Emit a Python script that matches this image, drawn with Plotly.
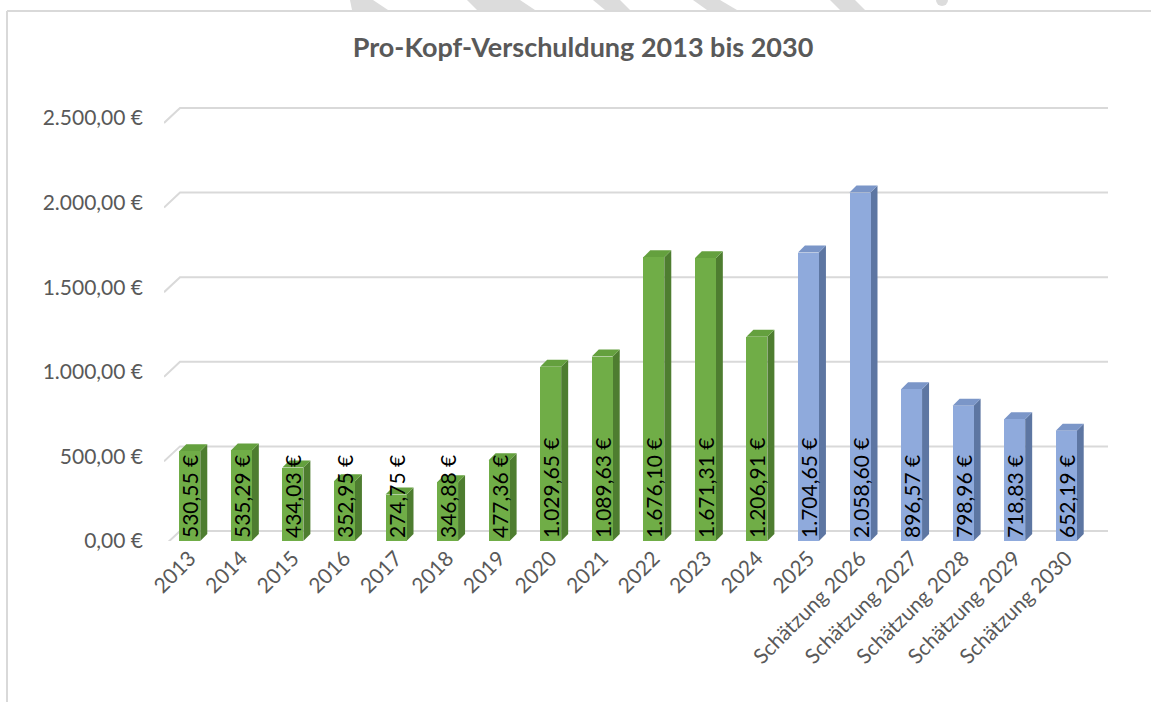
import plotly.graph_objects as go

# ---------------- data ----------------
categories = ["2013", "2014", "2015", "2016", "2017", "2018", "2019", "2020",
              "2021", "2022", "2023", "2024", "2025",
              "Schätzung 2026", "Schätzung 2027", "Schätzung 2028",
              "Schätzung 2029", "Schätzung 2030"]
values = [530.55, 535.29, 434.03, 352.95, 274.75, 346.88, 477.36, 1029.65,
          1089.63, 1676.10, 1671.31, 1206.91, 1704.65, 2058.60, 896.57,
          798.96, 718.83, 652.19]
is_estimate = [False] * 12 + [True] * 6
y_ticks = [0, 500, 1000, 1500, 2000, 2500]
title_text = "Pro-Kopf-Verschuldung 2013 bis 2030"


def de_eur(v):
    s = f"{v:,.2f}".replace(",", "X").replace(".", ",").replace("X", ".")
    return s + " €"


y_ticktext = [de_eur(v) for v in y_ticks]
bar_text = [de_eur(v) for v in values]

# ---------------- styling ----------------
W, H = 1151, 702
n = len(categories)
L, T, B = 164, 101, 161
BARS_W = 928                      # pixel width used by the 18 category slots
EXTRA = 18                        # room on the right for the back-wall depth
R = W - L - BARS_W - EXTRA
PW, PH = W - L - R, H - T - B
YMAX = 2600
px_per_x = BARS_W / n
px_per_y = PH / YMAX
XMAX = n - 0.5 + EXTRA / px_per_x

GREEN = dict(front="#70AD47", side="#4E7D30", top="#64A03E")
BLUE = dict(front="#8FAADC", side="#5D76A2", top="#7B96C8")
GRID = "#D9D9D9"
TXT = "#595959"
FONT = "Lato"

bar_w = 21 / px_per_x
dx = 7 / px_per_x
dy = 7 / px_per_y
gdx = 16 / px_per_x
gdy_back = 10 / px_per_y
gdy_front = 5 / px_per_y

xs = list(range(n))
colors = [(BLUE if e else GREEN) for e in is_estimate]

fig = go.Figure()
fig.add_trace(go.Bar(
    x=xs, y=values, width=bar_w,
    marker=dict(color=[c["front"] for c in colors], line=dict(width=0)),
    text=bar_text, textposition="inside", insidetextanchor="start",
    textangle=-90, constraintext="none", cliponaxis=False,
    textfont=dict(family=FONT, size=21, color="#000000"),
    hoverinfo="x+y", showlegend=False,
))

shapes = []
# back-wall gridlines with left slant
for v in y_ticks:
    shapes.append(dict(type="path", xref="x", yref="y", layer="below",
                       path=(f"M {-0.5},{v - gdy_front} L {-0.5 + gdx},{v + gdy_back} "
                             f"L {n - 0.5 + gdx},{v + gdy_back}"),
                       line=dict(color=GRID, width=2)))
# 3D faces of bars
for x, v, c in zip(xs, values, colors):
    x0, x1 = x - bar_w / 2, x + bar_w / 2
    shapes.append(dict(type="path", xref="x", yref="y", layer="below",
                       path=f"M {x1},0 L {x1 + dx},{dy} L {x1 + dx},{v + dy} L {x1},{v} Z",
                       fillcolor=c["side"], line=dict(width=0)))
    shapes.append(dict(type="path", xref="x", yref="y", layer="below",
                       path=f"M {x0},{v} L {x0 + dx},{v + dy} L {x1 + dx},{v + dy} L {x1},{v} Z",
                       fillcolor=c["top"], line=dict(width=0)))


def px2paper(px, py):
    return (px - L) / PW, (H - B - py) / PH


# chart border (left and top edges visible)
ax, ay = px2paper(7, 11)
bx, by = px2paper(W + 5, H + 5)
shapes.append(dict(type="line", xref="paper", yref="paper",
                   x0=ax, y0=ay, x1=bx, y1=ay, line=dict(color=GRID, width=2)))
shapes.append(dict(type="line", xref="paper", yref="paper",
                   x0=ax, y0=ay, x1=ax, y1=by, line=dict(color=GRID, width=2)))

# faint watermark fragments at the top edge
wm = [
    [(350, 0), (373, 0), (388, 10), (352, 10)],
    [(467, 0), (520, 0), (535, 10), (477, 10)],
    [(593, 0), (620, 0), (630, 10), (605, 10)],
    [(693, 0), (720, 0), (737, 10), (707, 10)],
    [(830, 0), (855, 0), (865, 10), (840, 10)],
]
for poly in wm:
    pts = [px2paper(a, b) for a, b in poly]
    path = "M " + " L ".join(f"{a},{b}" for a, b in pts) + " Z"
    shapes.append(dict(type="path", xref="paper", yref="paper", path=path,
                       fillcolor="#DCDCDC", line=dict(width=0), layer="below"))
cx0, cy0 = px2paper(936, -6)
cx1, cy1 = px2paper(948, 6)
shapes.append(dict(type="circle", xref="paper", yref="paper",
                   x0=cx0, y0=cy1, x1=cx1, y1=cy0,
                   fillcolor="#DCDCDC", line=dict(width=0), layer="below"))

fig.update_layout(
    width=W, height=H,
    margin=dict(l=L, r=R, t=T, b=B, pad=0, autoexpand=False),
    paper_bgcolor="white", plot_bgcolor="white",
    shapes=shapes,
    title=dict(text=f"<b>{title_text}</b>", x=583 / W, xanchor="center",
               xref="container", y=1 - 48 / H, yref="container", yanchor="middle",
               font=dict(family=FONT, size=27, color=TXT)),
    xaxis=dict(range=[-0.5, XMAX], tickvals=xs, ticktext=categories,
               tickangle=-45, showgrid=False, zeroline=False, showline=False,
               ticks="", automargin=False,
               tickfont=dict(family=FONT, size=21, color=TXT)),
    yaxis=dict(range=[0, YMAX], tickvals=y_ticks, ticktext=y_ticktext,
               showgrid=False, zeroline=False, showline=False, ticks="",
               ticklabelstandoff=20, automargin=False,
               tickfont=dict(family=FONT, size=21, color=TXT)),
    bargap=0,
)

fig.write_html(
    "out.html",
    config={"displayModeBar": False},
    post_script="document.body.style.margin='0';document.body.style.overflow='hidden';",
)
